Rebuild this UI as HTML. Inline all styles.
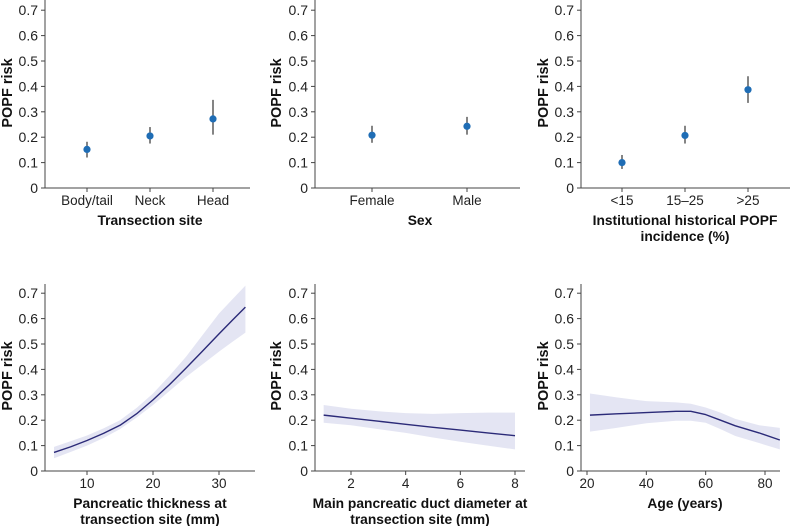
<!DOCTYPE html>
<html><head><meta charset="utf-8"><style>
html,body{margin:0;padding:0;background:#fff;}
svg{display:block;font-family:"Liberation Sans",Arial,sans-serif;}
</style></head><body>
<svg id="chart" width="790" height="526" viewBox="0 0 790 526"></svg>
<script>
// Panel 1: transection site
const siteCats = ["Body/tail","Neck","Head"];
const siteEst = [0.152,0.205,0.272];
const siteLo = [0.12,0.175,0.21];
const siteHi = [0.182,0.24,0.347];
// Panel 2: sex
const sexCats = ["Female","Male"];
const sexEst = [0.208,0.243];
const sexLo = [0.178,0.21];
const sexHi = [0.245,0.28];
// Panel 3: institutional incidence
const instCats = ["<15","15\u201325",">25"];
const instEst = [0.1,0.207,0.387];
const instLo = [0.075,0.175,0.335];
const instHi = [0.13,0.245,0.44];
// Panel 4: pancreatic thickness
const thickX = [5,7.5,10,12.5,15,17.5,20,22.5,25,27.5,30,32,34];
const thickEst = [0.073,0.095,0.12,0.148,0.18,0.225,0.28,0.34,0.405,0.472,0.54,0.593,0.645];
const thickLo = [0.05,0.075,0.1,0.13,0.165,0.21,0.26,0.315,0.37,0.42,0.47,0.508,0.545];
const thickHi = [0.095,0.117,0.14,0.168,0.2,0.248,0.305,0.375,0.45,0.535,0.62,0.675,0.73];
const thickTicks = [10,20,30];
// Panel 5: duct diameter
const ductX = [1,2,3,4,5,6,7,8];
const ductEst = [0.22,0.208,0.196,0.184,0.172,0.161,0.15,0.139];
const ductLo = [0.19,0.18,0.165,0.15,0.132,0.115,0.1,0.085];
const ductHi = [0.26,0.245,0.235,0.228,0.225,0.228,0.23,0.23];
const ductTicks = [2,4,6,8];
// Panel 6: age
const ageX = [21,30,40,50,55,60,65,70,78,85];
const ageEst = [0.22,0.225,0.23,0.235,0.235,0.222,0.2,0.178,0.15,0.122];
const ageLo = [0.155,0.17,0.188,0.198,0.198,0.19,0.165,0.138,0.11,0.085];
const ageHi = [0.305,0.29,0.275,0.27,0.265,0.25,0.23,0.205,0.18,0.17];
const ageTicks = [20,40,60,80];
const yTicks = [0,0.1,0.2,0.3,0.4,0.5,0.6,0.7];

const NS="http://www.w3.org/2000/svg";
const svg=document.getElementById('chart');
function el(tag,attrs,parent){const e=document.createElementNS(NS,tag);for(const k in attrs)e.setAttribute(k,attrs[k]);(parent||svg).appendChild(e);return e;}
function txt(s,attrs,parent){const e=el('text',attrs,parent);e.textContent=s;return e;}

function panel(opt){
  const g=el('g',{});
  
  
  const y=v=>opt.y0-v*254;
  const ax=el('line',{x1:opt.ax,y1:opt.ytop,x2:opt.ax,y2:opt.y0,stroke:'#444','stroke-width':1},g);
  
  
  const bx=el('line',{x1:opt.ax,y1:opt.y0,x2:opt.xend,y2:opt.y0,stroke:'#444','stroke-width':1},g);
  
  
  yTicks.forEach(t=>{
    el('line',{x1:opt.ax-4,x2:opt.ax,y1:y(t),y2:y(t),stroke:'#444'},g);
    const l=txt(t===0?'0':t.toFixed(1),{x:opt.ax-7,y:y(t)+5,'text-anchor':'end','font-size':14,fill:'#222'},g);
    
    
  });
  const yl=txt('POPF risk',{x:0,y:0,transform:`translate(${opt.ylx},${opt.y0-95}) rotate(-90)`,'text-anchor':'middle','font-size':14.5,'font-weight':'bold',fill:'#111'},g);
  
  
  opt.title.forEach((s,i)=>{
    const t=txt(s,{x:opt.tcx,y:opt.y0+37+i*16,'text-anchor':'middle','font-size':13.8,'font-weight':'bold',fill:'#111'},g);
    
    
  });
  return {g,y};
}

function catPanel(opt,cats,est,lo,hi,x0,step){
  const p=panel(opt);
  cats.forEach((c,i)=>{
    const x=x0+i*step;
    el('line',{x1:x,x2:x,y1:opt.y0,y2:opt.y0+4,stroke:'#444'},p.g);
    const l=txt(c,{x:x,y:opt.y0+17,'text-anchor':'middle','font-size':13.5,fill:'#222'},p.g);
    
    
    const e=el('line',{x1:x,x2:x,y1:p.y(lo[i]),y2:p.y(hi[i]),stroke:'#333','stroke-width':1.2},p.g);
    
    
    const d=el('circle',{cx:x,cy:p.y(est[i]),r:3.6,fill:'#1f6db5'},p.g);
    
    
  });
}

function curvePanel(opt,xs,est,lo,hi,ticks,xa,xb,pa,pb){
  const p=panel(opt);
  const xf=v=>pa+(v-xa)*(pb-pa)/(xb-xa);
  ticks.forEach(t=>{
    el('line',{x1:xf(t),x2:xf(t),y1:opt.y0,y2:opt.y0+4,stroke:'#444'},p.g);
    const l=txt(String(t),{x:xf(t),y:opt.y0+17,'text-anchor':'middle','font-size':13.5,fill:'#222'},p.g);
    
    
  });
  let d='M'+xs.map((v,i)=>xf(v)+','+p.y(hi[i])).join('L');
  for(let i=xs.length-1;i>=0;i--) d+='L'+xf(xs[i])+','+p.y(lo[i]);
  const band=el('path',{d:d+'Z',fill:'#e4e5f3'},p.g);
  
  
  const line=el('polyline',{points:xs.map((v,i)=>xf(v)+','+p.y(est[i])).join(' '),fill:'none',stroke:'#2b2a78','stroke-width':1.4,'stroke-linejoin':'round'},p.g);
  
  
}

catPanel({name:'transection-site-panel',ax:45,y0:188,ytop:0,xend:250,ylx:12,tcx:150,title:['Transection site']},siteCats,siteEst,siteLo,siteHi,87,63);
catPanel({name:'sex-panel',ax:315,y0:188,ytop:0,xend:520,ylx:281,tcx:420,title:['Sex']},sexCats,sexEst,sexLo,sexHi,372,95);
catPanel({name:'institutional-incidence-panel',ax:581,y0:188,ytop:0,xend:790,ylx:548,tcx:685,title:['Institutional historical POPF','incidence (%)']},instCats,instEst,instLo,instHi,622,63);
curvePanel({name:'thickness-panel',ax:45,y0:471,ytop:284,xend:255,ylx:12,tcx:150,title:['Pancreatic thickness at','transection site (mm)']},thickX,thickEst,thickLo,thickHi,thickTicks,10,30,87,219);
curvePanel({name:'duct-diameter-panel',ax:315,y0:471,ytop:284,xend:525,ylx:281,tcx:420,title:['Main pancreatic duct diameter at','transection site (mm)']},ductX,ductEst,ductLo,ductHi,ductTicks,2,8,351,515);
curvePanel({name:'age-panel',ax:581,y0:471,ytop:284,xend:780,ylx:548,tcx:685,title:['Age (years)']},ageX,ageEst,ageLo,ageHi,ageTicks,20,80,587,765);
</script>
</body></html>
